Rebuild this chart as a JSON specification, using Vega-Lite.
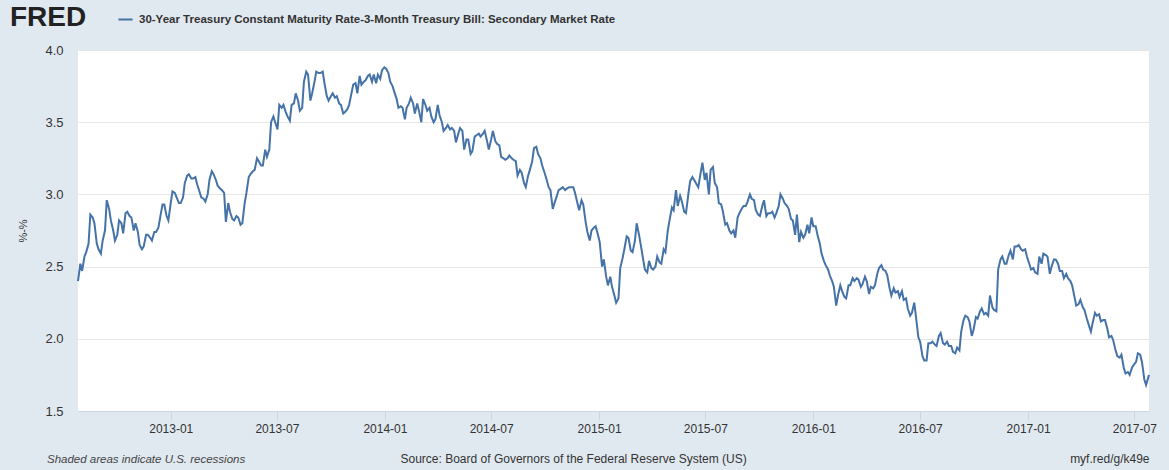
{
"$schema": "https://vega.github.io/schema/vega-lite/v6.json",
"width": 1071, "height": 361,
"autosize": {"type": "none"},
"padding": {"left": 78, "top": 50, "right": 20, "bottom": 59},
"background": "#e1e9f0",
"config": {"view": {"fill": "#ffffff", "stroke": null}, "font": "Liberation Sans"},
"title": {"text": "Shaded areas indicate U.S. recessions", "orient": "bottom", "anchor": "start", "frame": "group", "dx": -31, "dy": -14, "fontSize": 11.5, "fontStyle": "italic", "fontWeight": "normal", "color": "#444", "font": "Liberation Sans"},
"data": {"values": [
{"date":"2012-07-27","rate":2.40},{"date":"2012-08-03","rate":2.47},{"date":"2012-08-10","rate":2.60},{"date":"2012-08-17","rate":2.86},{"date":"2012-08-24","rate":2.80},{"date":"2012-08-31","rate":2.62},{"date":"2012-09-07","rate":2.68},{"date":"2012-09-14","rate":2.96},{"date":"2012-09-21","rate":2.82},{"date":"2012-09-28","rate":2.68},{"date":"2012-10-05","rate":2.82},{"date":"2012-10-12","rate":2.73},{"date":"2012-10-19","rate":2.88},{"date":"2012-10-26","rate":2.84},{"date":"2012-11-02","rate":2.80},{"date":"2012-11-09","rate":2.65},{"date":"2012-11-16","rate":2.64},{"date":"2012-11-23","rate":2.72},{"date":"2012-11-30","rate":2.68},{"date":"2012-12-07","rate":2.74},{"date":"2012-12-14","rate":2.84},{"date":"2012-12-21","rate":2.93},{"date":"2012-12-28","rate":2.82},
{"date":"2013-01-04","rate":3.02},{"date":"2013-01-11","rate":2.98},{"date":"2013-01-18","rate":2.94},{"date":"2013-01-25","rate":3.08},{"date":"2013-02-01","rate":3.14},{"date":"2013-02-08","rate":3.11},{"date":"2013-02-15","rate":3.07},{"date":"2013-02-22","rate":2.98},{"date":"2013-03-01","rate":2.95},{"date":"2013-03-08","rate":3.10},{"date":"2013-03-15","rate":3.14},{"date":"2013-03-22","rate":3.06},{"date":"2013-03-29","rate":3.03},{"date":"2013-04-05","rate":2.81},{"date":"2013-04-12","rate":2.88},{"date":"2013-04-19","rate":2.82},{"date":"2013-04-26","rate":2.84},{"date":"2013-05-03","rate":2.80},{"date":"2013-05-10","rate":3.01},{"date":"2013-05-17","rate":3.14},{"date":"2013-05-24","rate":3.17},{"date":"2013-05-31","rate":3.23},{"date":"2013-06-07","rate":3.20},{"date":"2013-06-14","rate":3.26},{"date":"2013-06-21","rate":3.50},{"date":"2013-06-28","rate":3.50},{"date":"2013-07-05","rate":3.62},{"date":"2013-07-12","rate":3.62},{"date":"2013-07-19","rate":3.54},{"date":"2013-07-26","rate":3.62},{"date":"2013-08-02","rate":3.70},{"date":"2013-08-09","rate":3.58},{"date":"2013-08-16","rate":3.78},{"date":"2013-08-23","rate":3.83},{"date":"2013-08-30","rate":3.70},{"date":"2013-09-06","rate":3.85},{"date":"2013-09-13","rate":3.84},{"date":"2013-09-20","rate":3.77},{"date":"2013-09-27","rate":3.65},{"date":"2013-10-04","rate":3.70},{"date":"2013-10-11","rate":3.68},{"date":"2013-10-18","rate":3.62},{"date":"2013-10-25","rate":3.57},{"date":"2013-11-01","rate":3.62},{"date":"2013-11-08","rate":3.76},{"date":"2013-11-15","rate":3.70},{"date":"2013-11-22","rate":3.76},{"date":"2013-11-29","rate":3.79},{"date":"2013-12-06","rate":3.83},{"date":"2013-12-13","rate":3.83},{"date":"2013-12-20","rate":3.83},{"date":"2013-12-27","rate":3.86},
{"date":"2014-01-03","rate":3.87},{"date":"2014-01-10","rate":3.78},{"date":"2014-01-17","rate":3.71},{"date":"2014-01-24","rate":3.60},{"date":"2014-01-31","rate":3.60},{"date":"2014-02-07","rate":3.60},{"date":"2014-02-14","rate":3.67},{"date":"2014-02-21","rate":3.56},{"date":"2014-02-28","rate":3.58},{"date":"2014-03-07","rate":3.66},{"date":"2014-03-14","rate":3.58},{"date":"2014-03-21","rate":3.54},{"date":"2014-03-28","rate":3.52},{"date":"2014-04-04","rate":3.55},{"date":"2014-04-11","rate":3.44},{"date":"2014-04-18","rate":3.48},{"date":"2014-04-25","rate":3.46},{"date":"2014-05-02","rate":3.36},{"date":"2014-05-09","rate":3.46},{"date":"2014-05-16","rate":3.31},{"date":"2014-05-23","rate":3.38},{"date":"2014-05-30","rate":3.30},{"date":"2014-06-06","rate":3.41},{"date":"2014-06-13","rate":3.40},{"date":"2014-06-20","rate":3.44},{"date":"2014-06-27","rate":3.31},{"date":"2014-07-04","rate":3.44},{"date":"2014-07-11","rate":3.35},{"date":"2014-07-18","rate":3.26},{"date":"2014-07-25","rate":3.24},{"date":"2014-08-01","rate":3.27},{"date":"2014-08-08","rate":3.24},{"date":"2014-08-15","rate":3.13},{"date":"2014-08-22","rate":3.15},{"date":"2014-08-29","rate":3.05},{"date":"2014-09-05","rate":3.17},{"date":"2014-09-12","rate":3.32},{"date":"2014-09-19","rate":3.28},{"date":"2014-09-26","rate":3.20},{"date":"2014-10-03","rate":3.11},{"date":"2014-10-10","rate":3.03},{"date":"2014-10-17","rate":2.94},{"date":"2014-10-24","rate":3.03},{"date":"2014-10-31","rate":3.05},{"date":"2014-11-07","rate":3.04},{"date":"2014-11-14","rate":3.05},{"date":"2014-11-21","rate":3.01},{"date":"2014-11-28","rate":2.89},{"date":"2014-12-05","rate":2.93},{"date":"2014-12-12","rate":2.74},{"date":"2014-12-19","rate":2.75},{"date":"2014-12-26","rate":2.78},
{"date":"2015-01-02","rate":2.67},{"date":"2015-01-09","rate":2.55},{"date":"2015-01-16","rate":2.37},{"date":"2015-01-23","rate":2.36},{"date":"2015-01-30","rate":2.25},{"date":"2015-02-06","rate":2.49},{"date":"2015-02-13","rate":2.62},{"date":"2015-02-20","rate":2.70},{"date":"2015-02-27","rate":2.60},{"date":"2015-03-06","rate":2.80},{"date":"2015-03-13","rate":2.65},{"date":"2015-03-20","rate":2.48},{"date":"2015-03-27","rate":2.54},{"date":"2015-04-03","rate":2.48},{"date":"2015-04-10","rate":2.57},{"date":"2015-04-17","rate":2.52},{"date":"2015-04-24","rate":2.60},{"date":"2015-05-01","rate":2.82},{"date":"2015-05-08","rate":2.89},{"date":"2015-05-15","rate":2.92},{"date":"2015-05-22","rate":2.95},{"date":"2015-05-29","rate":2.87},{"date":"2015-06-05","rate":3.09},{"date":"2015-06-12","rate":3.10},{"date":"2015-06-19","rate":3.05},{"date":"2015-06-26","rate":3.22},{"date":"2015-07-03","rate":3.15},{"date":"2015-07-10","rate":3.17},{"date":"2015-07-17","rate":3.08},{"date":"2015-07-24","rate":2.94},{"date":"2015-07-31","rate":2.88},{"date":"2015-08-07","rate":2.80},{"date":"2015-08-14","rate":2.73},{"date":"2015-08-21","rate":2.70},{"date":"2015-08-28","rate":2.87},{"date":"2015-09-04","rate":2.92},{"date":"2015-09-11","rate":2.95},{"date":"2015-09-18","rate":2.97},{"date":"2015-09-25","rate":2.89},{"date":"2015-10-02","rate":2.85},{"date":"2015-10-09","rate":2.96},{"date":"2015-10-16","rate":2.87},{"date":"2015-10-23","rate":2.88},{"date":"2015-10-30","rate":2.87},{"date":"2015-11-06","rate":3.00},{"date":"2015-11-13","rate":2.94},{"date":"2015-11-20","rate":2.90},{"date":"2015-11-27","rate":2.82},{"date":"2015-12-04","rate":2.86},{"date":"2015-12-11","rate":2.74},{"date":"2015-12-18","rate":2.72},{"date":"2015-12-25","rate":2.73},
{"date":"2016-01-01","rate":2.78},{"date":"2016-01-08","rate":2.72},{"date":"2016-01-15","rate":2.59},{"date":"2016-01-22","rate":2.51},{"date":"2016-01-29","rate":2.44},{"date":"2016-02-05","rate":2.36},{"date":"2016-02-12","rate":2.30},{"date":"2016-02-19","rate":2.33},{"date":"2016-02-26","rate":2.28},{"date":"2016-03-04","rate":2.37},{"date":"2016-03-11","rate":2.40},{"date":"2016-03-18","rate":2.41},{"date":"2016-03-25","rate":2.38},{"date":"2016-04-01","rate":2.40},{"date":"2016-04-08","rate":2.36},{"date":"2016-04-15","rate":2.37},{"date":"2016-04-22","rate":2.49},{"date":"2016-04-29","rate":2.48},{"date":"2016-05-06","rate":2.44},{"date":"2016-05-13","rate":2.30},{"date":"2016-05-20","rate":2.32},{"date":"2016-05-27","rate":2.29},{"date":"2016-06-03","rate":2.27},{"date":"2016-06-10","rate":2.21},{"date":"2016-06-17","rate":2.18},{"date":"2016-06-24","rate":2.15},{"date":"2016-07-01","rate":1.98},{"date":"2016-07-08","rate":1.85},{"date":"2016-07-15","rate":1.97},{"date":"2016-07-22","rate":1.98},{"date":"2016-07-29","rate":1.95},{"date":"2016-08-05","rate":2.04},{"date":"2016-08-12","rate":1.96},{"date":"2016-08-19","rate":1.95},{"date":"2016-08-26","rate":1.91},{"date":"2016-09-02","rate":1.94},{"date":"2016-09-09","rate":2.05},{"date":"2016-09-16","rate":2.16},{"date":"2016-09-23","rate":2.12},{"date":"2016-09-30","rate":2.06},{"date":"2016-10-07","rate":2.14},{"date":"2016-10-14","rate":2.21},{"date":"2016-10-21","rate":2.18},{"date":"2016-10-28","rate":2.30},{"date":"2016-11-04","rate":2.20},{"date":"2016-11-11","rate":2.48},{"date":"2016-11-18","rate":2.57},{"date":"2016-11-25","rate":2.52},{"date":"2016-12-02","rate":2.61},{"date":"2016-12-09","rate":2.64},{"date":"2016-12-16","rate":2.65},{"date":"2016-12-23","rate":2.61},{"date":"2016-12-30","rate":2.57},
{"date":"2017-01-06","rate":2.48},{"date":"2017-01-13","rate":2.46},{"date":"2017-01-20","rate":2.57},{"date":"2017-01-27","rate":2.59},{"date":"2017-02-03","rate":2.57},{"date":"2017-02-10","rate":2.50},{"date":"2017-02-17","rate":2.55},{"date":"2017-02-24","rate":2.47},{"date":"2017-03-03","rate":2.42},{"date":"2017-03-10","rate":2.42},{"date":"2017-03-17","rate":2.37},{"date":"2017-03-24","rate":2.23},{"date":"2017-03-31","rate":2.27},{"date":"2017-04-07","rate":2.20},{"date":"2017-04-14","rate":2.10},{"date":"2017-04-21","rate":2.11},{"date":"2017-04-28","rate":2.16},{"date":"2017-05-05","rate":2.12},{"date":"2017-05-12","rate":2.13},{"date":"2017-05-19","rate":2.01},{"date":"2017-05-26","rate":1.99},{"date":"2017-06-02","rate":1.88},{"date":"2017-06-09","rate":1.89},{"date":"2017-06-16","rate":1.76},{"date":"2017-06-23","rate":1.75},{"date":"2017-06-30","rate":1.82},{"date":"2017-07-07","rate":1.90},{"date":"2017-07-14","rate":1.84},{"date":"2017-07-21","rate":1.68},{"date":"2017-07-26","rate":1.75},
{"date":"2012-07-31","rate":2.52},{"date":"2012-08-07","rate":2.57},{"date":"2012-08-14","rate":2.66},{"date":"2012-08-21","rate":2.84},{"date":"2012-08-28","rate":2.66},{"date":"2012-09-04","rate":2.59},{"date":"2012-09-11","rate":2.75},{"date":"2012-09-18","rate":2.90},{"date":"2012-09-25","rate":2.75},{"date":"2012-10-02","rate":2.72},{"date":"2012-10-09","rate":2.80},{"date":"2012-10-16","rate":2.87},{"date":"2012-10-23","rate":2.85},{"date":"2012-10-30","rate":2.75},{"date":"2012-11-06","rate":2.74},{"date":"2012-11-13","rate":2.62},{"date":"2012-11-20","rate":2.72},{"date":"2012-11-27","rate":2.70},{"date":"2012-12-04","rate":2.74},{"date":"2012-12-11","rate":2.77},{"date":"2012-12-18","rate":2.93},{"date":"2012-12-25","rate":2.85},{"date":"2013-01-01","rate":2.94},
{"date":"2013-01-08","rate":3.01},{"date":"2013-01-15","rate":2.94},{"date":"2013-01-22","rate":2.98},{"date":"2013-01-29","rate":3.13},{"date":"2013-02-05","rate":3.11},{"date":"2013-02-12","rate":3.12},{"date":"2013-02-19","rate":3.02},{"date":"2013-02-26","rate":2.97},{"date":"2013-03-05","rate":3.00},{"date":"2013-03-12","rate":3.16},{"date":"2013-03-19","rate":3.10},{"date":"2013-03-26","rate":3.04},{"date":"2013-04-02","rate":3.01},{"date":"2013-04-09","rate":2.94},{"date":"2013-04-16","rate":2.83},{"date":"2013-04-23","rate":2.85},{"date":"2013-04-30","rate":2.79},{"date":"2013-05-07","rate":2.94},{"date":"2013-05-14","rate":3.12},{"date":"2013-05-21","rate":3.16},{"date":"2013-05-28","rate":3.25},{"date":"2013-06-04","rate":3.20},{"date":"2013-06-11","rate":3.31},{"date":"2013-06-18","rate":3.31},{"date":"2013-06-25","rate":3.54},{"date":"2013-07-02","rate":3.45},{"date":"2013-07-09","rate":3.60},{"date":"2013-07-16","rate":3.57},{"date":"2013-07-23","rate":3.51},{"date":"2013-07-30","rate":3.63},{"date":"2013-08-06","rate":3.65},{"date":"2013-08-13","rate":3.60},{"date":"2013-08-20","rate":3.85},{"date":"2013-08-27","rate":3.65},{"date":"2013-09-03","rate":3.78},{"date":"2013-09-10","rate":3.84},{"date":"2013-09-17","rate":3.85},{"date":"2013-09-24","rate":3.68},{"date":"2013-10-01","rate":3.68},{"date":"2013-10-08","rate":3.67},{"date":"2013-10-15","rate":3.63},{"date":"2013-10-22","rate":3.56},{"date":"2013-10-29","rate":3.59},{"date":"2013-11-05","rate":3.70},{"date":"2013-11-12","rate":3.77},{"date":"2013-11-19","rate":3.82},{"date":"2013-11-26","rate":3.78},{"date":"2013-12-03","rate":3.82},{"date":"2013-12-10","rate":3.78},{"date":"2013-12-17","rate":3.77},{"date":"2013-12-24","rate":3.80},{"date":"2013-12-31","rate":3.88},
{"date":"2014-01-07","rate":3.84},{"date":"2014-01-14","rate":3.75},{"date":"2014-01-21","rate":3.66},{"date":"2014-01-28","rate":3.61},{"date":"2014-02-04","rate":3.52},{"date":"2014-02-11","rate":3.63},{"date":"2014-02-18","rate":3.63},{"date":"2014-02-25","rate":3.63},{"date":"2014-03-04","rate":3.50},{"date":"2014-03-11","rate":3.62},{"date":"2014-03-18","rate":3.60},{"date":"2014-03-25","rate":3.50},{"date":"2014-04-01","rate":3.62},{"date":"2014-04-08","rate":3.50},{"date":"2014-04-15","rate":3.46},{"date":"2014-04-22","rate":3.45},{"date":"2014-04-29","rate":3.44},{"date":"2014-05-06","rate":3.42},{"date":"2014-05-13","rate":3.44},{"date":"2014-05-20","rate":3.38},{"date":"2014-05-27","rate":3.28},{"date":"2014-06-03","rate":3.40},{"date":"2014-06-10","rate":3.42},{"date":"2014-06-17","rate":3.42},{"date":"2014-06-24","rate":3.37},{"date":"2014-07-01","rate":3.38},{"date":"2014-07-08","rate":3.37},{"date":"2014-07-15","rate":3.34},{"date":"2014-07-22","rate":3.25},{"date":"2014-07-29","rate":3.25},{"date":"2014-08-05","rate":3.25},{"date":"2014-08-12","rate":3.23},{"date":"2014-08-19","rate":3.17},{"date":"2014-08-26","rate":3.08},{"date":"2014-09-02","rate":3.13},{"date":"2014-09-09","rate":3.23},{"date":"2014-09-16","rate":3.33},{"date":"2014-09-23","rate":3.25},{"date":"2014-09-30","rate":3.15},{"date":"2014-10-07","rate":3.05},{"date":"2014-10-14","rate":2.90},{"date":"2014-10-21","rate":2.99},{"date":"2014-10-28","rate":3.04},{"date":"2014-11-04","rate":3.03},{"date":"2014-11-11","rate":3.05},{"date":"2014-11-18","rate":3.05},{"date":"2014-11-25","rate":2.94},{"date":"2014-12-02","rate":2.96},{"date":"2014-12-09","rate":2.81},{"date":"2014-12-16","rate":2.68},{"date":"2014-12-23","rate":2.77},{"date":"2014-12-30","rate":2.72},
{"date":"2015-01-06","rate":2.50},{"date":"2015-01-13","rate":2.43},{"date":"2015-01-20","rate":2.43},{"date":"2015-01-27","rate":2.30},{"date":"2015-02-03","rate":2.28},{"date":"2015-02-10","rate":2.56},{"date":"2015-02-17","rate":2.71},{"date":"2015-02-24","rate":2.61},{"date":"2015-03-03","rate":2.68},{"date":"2015-03-10","rate":2.72},{"date":"2015-03-17","rate":2.55},{"date":"2015-03-24","rate":2.46},{"date":"2015-03-31","rate":2.49},{"date":"2015-04-07","rate":2.50},{"date":"2015-04-14","rate":2.53},{"date":"2015-04-21","rate":2.62},{"date":"2015-04-28","rate":2.75},{"date":"2015-05-05","rate":2.91},{"date":"2015-05-12","rate":3.03},{"date":"2015-05-19","rate":2.99},{"date":"2015-05-26","rate":2.88},{"date":"2015-06-02","rate":3.00},{"date":"2015-06-09","rate":3.12},{"date":"2015-06-16","rate":3.07},{"date":"2015-06-23","rate":3.15},{"date":"2015-06-30","rate":3.10},{"date":"2015-07-07","rate":3.00},{"date":"2015-07-14","rate":3.19},{"date":"2015-07-21","rate":3.05},{"date":"2015-07-28","rate":2.93},{"date":"2015-08-04","rate":2.79},{"date":"2015-08-11","rate":2.75},{"date":"2015-08-18","rate":2.75},{"date":"2015-08-25","rate":2.84},{"date":"2015-09-01","rate":2.90},{"date":"2015-09-08","rate":2.92},{"date":"2015-09-15","rate":3.00},{"date":"2015-09-22","rate":2.96},{"date":"2015-09-29","rate":2.86},{"date":"2015-10-06","rate":2.92},{"date":"2015-10-13","rate":2.85},{"date":"2015-10-20","rate":2.87},{"date":"2015-10-27","rate":2.84},{"date":"2015-11-03","rate":2.92},{"date":"2015-11-10","rate":2.97},{"date":"2015-11-17","rate":2.92},{"date":"2015-11-24","rate":2.83},{"date":"2015-12-01","rate":2.72},{"date":"2015-12-08","rate":2.67},{"date":"2015-12-15","rate":2.70},{"date":"2015-12-22","rate":2.79},{"date":"2015-12-29","rate":2.84},
{"date":"2016-01-05","rate":2.78},{"date":"2016-01-12","rate":2.66},{"date":"2016-01-19","rate":2.54},{"date":"2016-01-26","rate":2.48},{"date":"2016-02-02","rate":2.40},{"date":"2016-02-09","rate":2.23},{"date":"2016-02-16","rate":2.37},{"date":"2016-02-23","rate":2.29},{"date":"2016-03-01","rate":2.37},{"date":"2016-03-08","rate":2.42},{"date":"2016-03-15","rate":2.42},{"date":"2016-03-22","rate":2.36},{"date":"2016-03-29","rate":2.43},{"date":"2016-04-05","rate":2.31},{"date":"2016-04-12","rate":2.35},{"date":"2016-04-19","rate":2.45},{"date":"2016-04-26","rate":2.51},{"date":"2016-05-03","rate":2.47},{"date":"2016-05-10","rate":2.35},{"date":"2016-05-17","rate":2.35},{"date":"2016-05-24","rate":2.33},{"date":"2016-05-31","rate":2.33},{"date":"2016-06-07","rate":2.28},{"date":"2016-06-14","rate":2.16},{"date":"2016-06-21","rate":2.25},{"date":"2016-06-28","rate":2.01},{"date":"2016-07-05","rate":1.88},{"date":"2016-07-12","rate":1.85},{"date":"2016-07-19","rate":1.97},{"date":"2016-07-26","rate":1.96},{"date":"2016-08-02","rate":2.02},{"date":"2016-08-09","rate":1.97},{"date":"2016-08-16","rate":1.98},{"date":"2016-08-23","rate":1.95},{"date":"2016-08-30","rate":1.90},{"date":"2016-09-06","rate":1.92},{"date":"2016-09-13","rate":2.13},{"date":"2016-09-20","rate":2.15},{"date":"2016-09-27","rate":2.02},{"date":"2016-10-04","rate":2.15},{"date":"2016-10-11","rate":2.19},{"date":"2016-10-18","rate":2.17},{"date":"2016-10-25","rate":2.16},{"date":"2016-11-01","rate":2.22},{"date":"2016-11-08","rate":2.19},{"date":"2016-11-15","rate":2.55},{"date":"2016-11-22","rate":2.52},{"date":"2016-11-29","rate":2.58},{"date":"2016-12-06","rate":2.55},{"date":"2016-12-13","rate":2.64},{"date":"2016-12-20","rate":2.62},{"date":"2016-12-27","rate":2.62},
{"date":"2017-01-03","rate":2.52},{"date":"2017-01-10","rate":2.49},{"date":"2017-01-17","rate":2.45},{"date":"2017-01-24","rate":2.52},{"date":"2017-01-31","rate":2.58},{"date":"2017-02-07","rate":2.45},{"date":"2017-02-14","rate":2.55},{"date":"2017-02-21","rate":2.52},{"date":"2017-02-28","rate":2.47},{"date":"2017-03-07","rate":2.45},{"date":"2017-03-14","rate":2.40},{"date":"2017-03-21","rate":2.29},{"date":"2017-03-28","rate":2.24},{"date":"2017-04-04","rate":2.22},{"date":"2017-04-11","rate":2.14},{"date":"2017-04-18","rate":2.05},{"date":"2017-04-25","rate":2.18},{"date":"2017-05-02","rate":2.17},{"date":"2017-05-09","rate":2.13},{"date":"2017-05-16","rate":2.07},{"date":"2017-05-23","rate":2.02},{"date":"2017-05-30","rate":1.92},{"date":"2017-06-06","rate":1.87},{"date":"2017-06-13","rate":1.80},{"date":"2017-06-20","rate":1.77},{"date":"2017-06-27","rate":1.80},{"date":"2017-07-04","rate":1.84},{"date":"2017-07-11","rate":1.89},{"date":"2017-07-18","rate":1.72}
]},
"layer": [
{
"mark": {"type": "line", "strokeWidth": 2},
"encoding": {
"x": {"field": "date", "type": "temporal",
 "scale": {"type": "utc", "domain": [{"year": 2012, "month": 7, "date": 27, "utc": true}, {"year": 2017, "month": 7, "date": 26, "utc": true}]},
 "axis": {"values": [{"year":2013,"month":1,"date":1,"utc":true},{"year":2013,"month":7,"date":1,"utc":true},{"year":2014,"month":1,"date":1,"utc":true},{"year":2014,"month":7,"date":1,"utc":true},{"year":2015,"month":1,"date":1,"utc":true},{"year":2015,"month":7,"date":1,"utc":true},{"year":2016,"month":1,"date":1,"utc":true},{"year":2016,"month":7,"date":1,"utc":true},{"year":2017,"month":1,"date":1,"utc":true},{"year":2017,"month":7,"date":1,"utc":true}],
  "labelExpr": "utcFormat(datum.value, '%Y-%m')", "grid": false, "domainColor": "#ccd6eb", "tickColor": "#ccd6eb", "tickSize": 9, "labelPadding": 3, "labelFontSize": 12, "labelColor": "#333333", "labelFlush": false,
  "title": "Source: Board of Governors of the Federal Reserve System (US)", "titleFontSize": 12, "titleFontWeight": "normal", "titleColor": "#333333", "titleX": 322, "titleY": 47, "titleAlign": "left", "titleBaseline": "middle"}},
"y": {"field": "rate", "type": "quantitative",
 "scale": {"domain": [1.5, 4.0], "nice": false, "zero": false},
 "axis": {"values": [1.5, 2.0, 2.5, 3.0, 3.5, 4.0], "format": ".1f", "grid": true, "gridColor": "#e6e6e6", "domain": false, "ticks": false, "labelPadding": 15, "labelFontSize": 13, "labelColor": "#333333", "title": "%-%", "titleFontSize": 11, "titleFontWeight": "normal", "titleColor": "#333333", "titlePadding": 16}},
"color": {"datum": "30-Year Treasury Constant Maturity Rate-3-Month Treasury Bill: Secondary Market Rate", "type": "nominal",
 "scale": {"range": ["#4572a7"]},
 "legend": {"orient": "none", "legendX": -68, "legendY": -39, "title": "FRED", "titleOrient": "left", "titleAnchor": "middle", "titleBaseline": "middle", "direction": "horizontal", "titleFontSize": 28, "titleFontWeight": 900, "titleColor": "#222222", "titlePadding": 30, "symbolType": "stroke", "symbolStrokeWidth": 2, "symbolSize": 200, "labelFontSize": 11.5, "labelFontWeight": "bold", "labelColor": "#333333", "labelLimit": 0, "labelOffset": 5}}
}
},
{
"mark": {"type": "rule", "strokeOpacity": 0},
"encoding": {
"y": {"datum": 0.5, "type": "quantitative", "scale": {"domain": [0, 1]},
 "axis": {"orient": "right", "labels": false, "ticks": false, "domain": false, "grid": false, "title": "myf.red/g/k49e", "titleAngle": 0, "titleAlign": "right", "titleBaseline": "middle", "titleX": 0, "titleY": 408, "titleFontSize": 12, "titleFontWeight": "normal", "titleColor": "#333333"}}
}
}
],
"resolve": {"scale": {"y": "independent", "color": "independent"}}
}
